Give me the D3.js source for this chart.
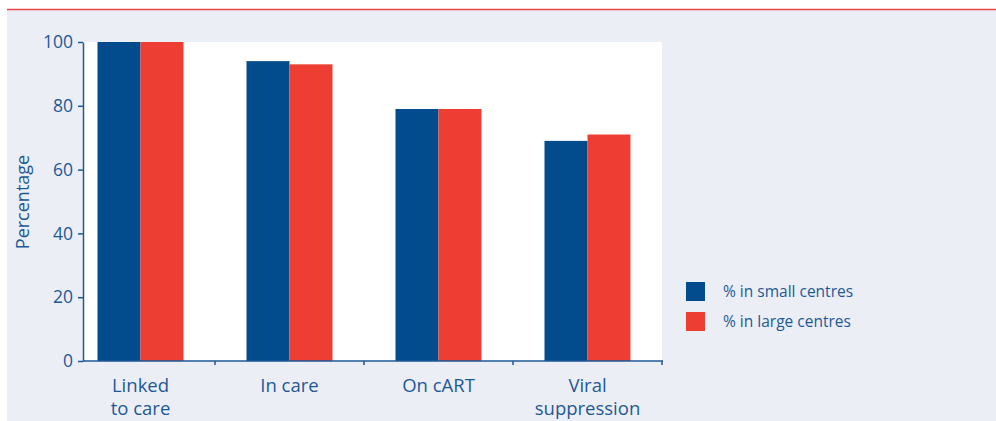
<!DOCTYPE html>
<html><head><meta charset="utf-8">
<script src="https://cdn.jsdelivr.net/npm/d3@7"></script>
<style>
html,body{margin:0;padding:0;background:#fff;}
svg{display:block;font-family:"Open Sans","Noto Sans",sans-serif;}
</style></head>
<body>
<svg id="c" width="996" height="421"></svg>
<script>
const categories = [["Linked","to care"],["In care"],["On cART"],["Viral","suppression"]];
const seriesNames = ["% in small centres","% in large centres"];
const smallCentres = [100, 94, 79, 69];
const largeCentres = [100, 93, 79, 71];
const yTicks = [0,20,40,60,80,100];
const colors = ["#024B8D","#EE3D33"];
const textColor = "#1D5997";

(function(){
const svg = d3.select("#c");
svg.append("rect").attr("x",7).attr("y",10).attr("width",989).attr("height",411).attr("fill","#ECEEF6");
svg.append("line").attr("x1",7).attr("x2",996).attr("y1",9.5).attr("y2",9.5).attr("stroke","#E84545").attr("stroke-width",1.5);

const pl=83, pr=662, pt=42, pb=361;
svg.append("rect").attr("x",pl).attr("y",pt).attr("width",pr-pl).attr("height",pb-pt).attr("fill","#fff");

const y = d3.scaleLinear().domain([0,100]).range([pb,pt]);
const x = d3.scaleBand().domain(d3.range(categories.length)).range([66,pr]).paddingInner(0).paddingOuter(0);
const barW = 43;

const data = [smallCentres, largeCentres];
data.forEach((vals,si)=>{
  svg.append("g").selectAll("rect").data(vals).join("rect")
    .attr("x",(d,i)=>x(i)+x.bandwidth()/2 + (si-1)*barW)
    .attr("width",barW)
    .attr("y",d=>y(d))
    .attr("height",d=>pb-y(d))
    .attr("fill",colors[si]);
});

const ya = svg.append("g").attr("transform",`translate(${pl},0)`)
  .call(d3.axisLeft(y).tickValues(yTicks).tickSize(5).tickPadding(5).tickSizeOuter(0));
ya.select(".domain").attr("stroke",textColor).attr("stroke-width",1.5);
ya.selectAll(".tick line").attr("stroke",textColor).attr("stroke-width",1.5);
ya.selectAll(".tick text").attr("fill",textColor).attr("font-size",17.5).attr("font-family","Open Sans, sans-serif");

svg.append("line").attr("x1",pl).attr("x2",pr+1).attr("y1",pb).attr("y2",pb).attr("stroke",textColor).attr("stroke-width",1.5);
const bounds = d3.range(categories.length).map(i=>x(i)+x.bandwidth());
svg.append("g").selectAll("line").data(bounds).join("line")
  .attr("x1",d=>d).attr("x2",d=>d).attr("y1",pb).attr("y2",pb+4)
  .attr("stroke",textColor).attr("stroke-width",1.5);

const lbl = svg.append("g").selectAll("text").data(categories).join("text")
  .attr("text-anchor","middle").attr("fill",textColor).attr("font-size",18.5)
  .attr("transform",(d,i)=>`translate(${x(i)+x.bandwidth()/2},392)`);
lbl.selectAll("tspan").data(d=>d).join("tspan").attr("x",0).attr("dy",(d,j)=>j===0?0:23).text(d=>d);

svg.append("text").attr("transform","translate(29,202) rotate(-90)").attr("text-anchor","middle")
  .attr("fill",textColor).attr("font-size",18).text("Percentage");

const lg = svg.append("g").selectAll("g").data(seriesNames).join("g")
  .attr("transform",(d,i)=>`translate(686,${282+i*30})`);
lg.append("rect").attr("width",19).attr("height",19).attr("fill",(d,i)=>colors[i]);
lg.append("text").attr("x",37).attr("y",10).attr("dy","0.35em").attr("fill",textColor).attr("font-size",15.5).text(d=>d);
})();
</script>
</body></html>
